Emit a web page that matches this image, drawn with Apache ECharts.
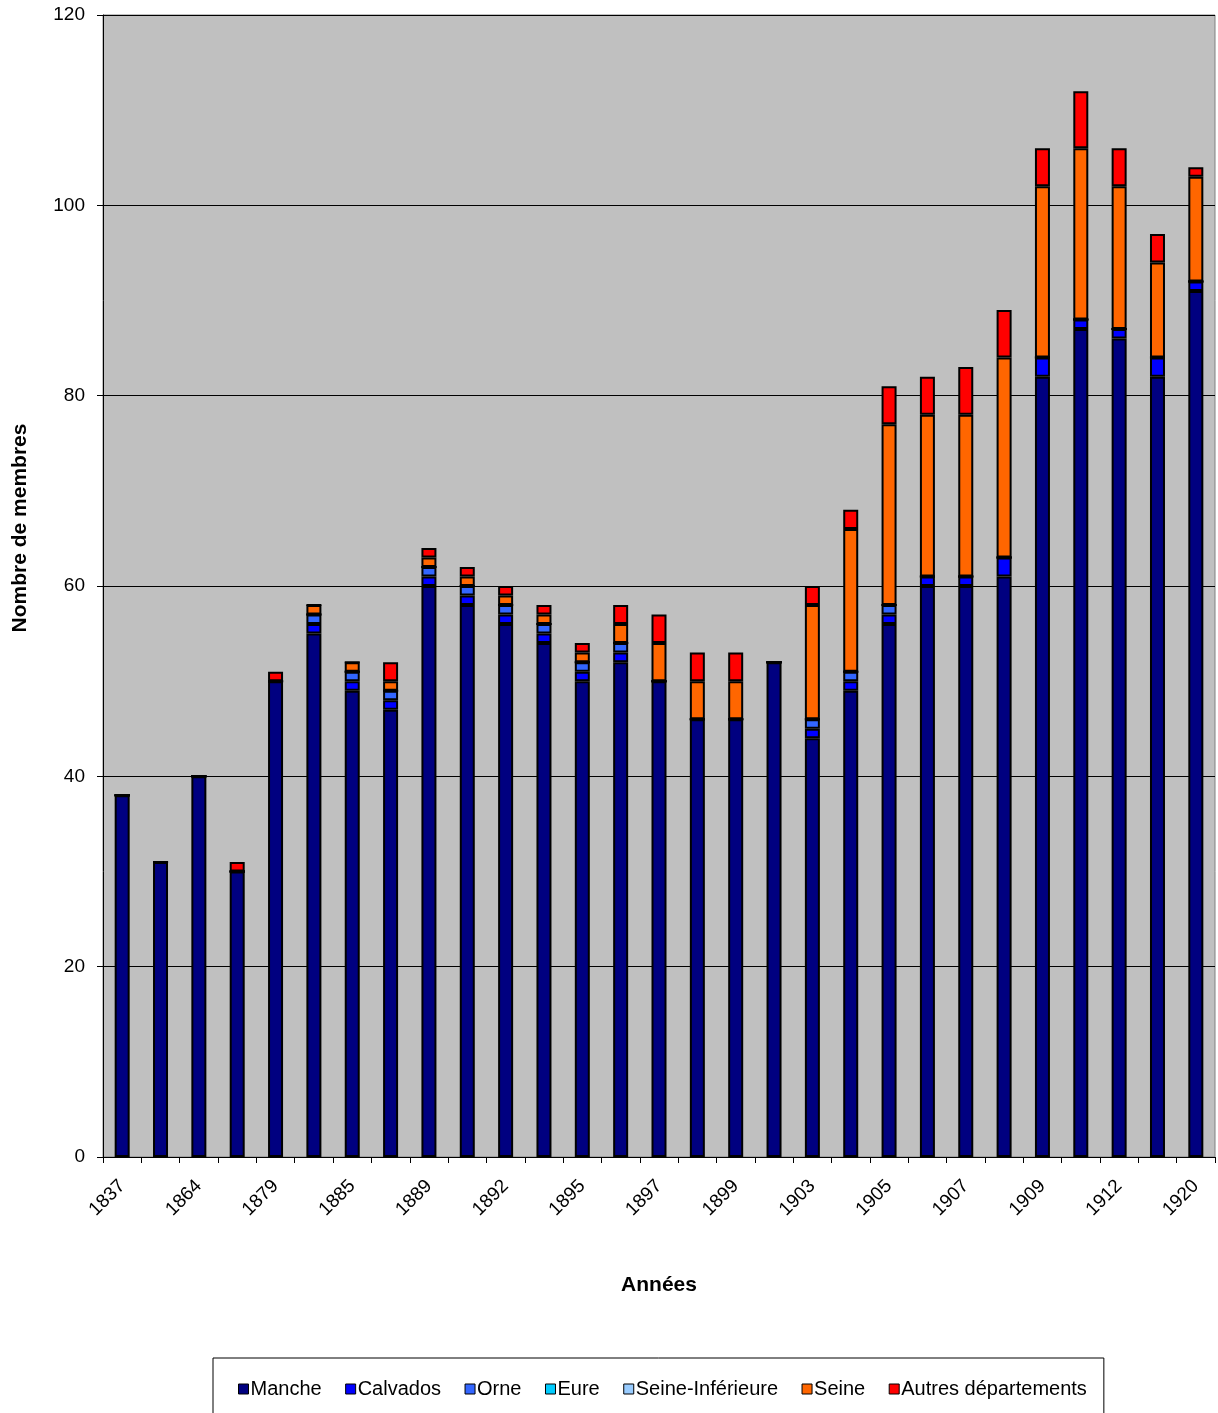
<!DOCTYPE html>
<html>
<head>
<meta charset="utf-8">
<script src="https://cdn.jsdelivr.net/npm/echarts@6/dist/echarts.min.js"></script>
<style>
  html, body { margin: 0; padding: 0; background: #fff; }
  #chart { width: 1218px; height: 1413px; }
</style>
</head>
<body>
<div id="chart"></div>
<script>
// années (une étiquette sur deux est affichée)
const years = ['1837', '1854', '1864', '1874', '1879', '1882', '1885', '1887', '1889', '1891',
    '1892', '1894', '1895', '1896', '1897', '1898', '1899', '1901', '1903', '1904',
    '1905', '1906', '1907', '1908', '1909', '1911', '1912', '1914', '1920'];

// membres par département
const manche = [38, 31, 40, 30, 50, 55, 49, 47, 60, 58, 56, 54, 50, 52, 50, 46, 46, 52, 44, 49,
    56, 60, 60, 61, 82, 87, 86, 82, 91];
const calvados = [0, 0, 0, 0, 0, 1, 1, 1, 1, 1, 1, 1, 1, 1, 0, 0, 0, 0, 1, 1,
    1, 1, 1, 2, 2, 1, 1, 2, 1];
const orne = [0, 0, 0, 0, 0, 1, 1, 1, 1, 1, 1, 1, 1, 1, 0, 0, 0, 0, 1, 1,
    1, 0, 0, 0, 0, 0, 0, 0, 0];
const eure = [0, 0, 0, 0, 0, 0, 0, 0, 0, 0, 0, 0, 0, 0, 0, 0, 0, 0, 0, 0,
    0, 0, 0, 0, 0, 0, 0, 0, 0];
const seineInf = [0, 0, 0, 0, 0, 0, 0, 0, 0, 0, 0, 0, 0, 0, 0, 0, 0, 0, 0, 0,
    0, 0, 0, 0, 0, 0, 0, 0, 0];
const seine = [0, 0, 0, 0, 0, 1, 1, 1, 1, 1, 1, 1, 1, 2, 4, 4, 4, 0, 12, 15,
    19, 17, 17, 21, 18, 18, 15, 10, 11];
const autres = [0, 0, 0, 1, 1, 0, 0, 2, 1, 1, 1, 1, 1, 2, 3, 3, 3, 0, 2, 2,
    4, 4, 5, 5, 4, 6, 4, 3, 1];

const seriesDefs = [
    { name: 'Manche', data: manche, color: '#000080' },
    { name: 'Calvados', data: calvados, color: '#0000FF' },
    { name: 'Orne', data: orne, color: '#3366FF' },
    { name: 'Eure', data: eure, color: '#00CCFF' },
    { name: 'Seine-Inférieure', data: seineInf, color: '#99CCFF' },
    { name: 'Seine', data: seine, color: '#FF6600' },
    { name: 'Autres départements', data: autres, color: '#FF0000' }
];

const FONT = "'Liberation Sans', Arial, sans-serif";

const chart = echarts.init(document.getElementById('chart'));

const option = {
    animation: false,
    textStyle: { fontFamily: FONT, color: '#000' },
    grid: {
        left: 103,
        right: 3,
        top: 15,
        bottom: 256,
        show: true,
        backgroundColor: '#C0C0C0',
        borderColor: '#808080',
        borderWidth: 1
    },
    legend: {
        data: seriesDefs.map(s => s.name),
        top: 1358,
        left: 213,
        padding: [21, 17, 21, 25],
        itemGap: 23.5,
        itemWidth: 10,
        itemHeight: 10,
        icon: 'rect',
        borderColor: '#000',
        borderWidth: 1,
        itemStyle: { borderColor: '#000', borderWidth: 1 },
        textStyle: { fontFamily: FONT, fontSize: 20, color: '#000', padding: [0, 0, 0, -3] }
    },
    xAxis: {
        type: 'category',
        data: years,
        name: 'Années',
        nameLocation: 'middle',
        nameGap: 118,
        nameTextStyle: { fontFamily: FONT, fontSize: 21, fontWeight: 'bold', color: '#000' },
        axisLine: { lineStyle: { color: '#000', width: 1 } },
        axisTick: { show: true, interval: 0, length: 6, lineStyle: { color: '#000' } },
        axisLabel: {
            interval: 1,
            rotate: 45,
            margin: 26,
            fontFamily: FONT,
            fontSize: 19,
            color: '#000'
        }
    },
    yAxis: {
        type: 'value',
        min: 0,
        max: 120,
        interval: 20,
        axisLine: { show: true, lineStyle: { color: '#000', width: 1 } },
        axisTick: { show: true, length: 6, lineStyle: { color: '#000' } },
        axisLabel: { margin: 18, fontFamily: FONT, fontSize: 19, color: '#000' },
        splitLine: { show: true, lineStyle: { color: '#000', width: 1 } }
    },
    graphic: [{
        type: 'text',
        x: 20,
        y: 528,
        rotation: Math.PI / 2,
        style: {
            text: 'Nombre de membres',
            font: 'bold 21px ' + FONT,
            fill: '#000',
            textAlign: 'center',
            textVerticalAlign: 'middle'
        }
    }],
    series: seriesDefs.map(s => ({
        name: s.name,
        type: 'bar',
        stack: 'membres',
        barWidth: 15,
        data: s.data,
        itemStyle: { color: s.color, borderColor: '#000', borderWidth: 2 }
    }))
};

chart.setOption(option);
</script>
</body>
</html>
